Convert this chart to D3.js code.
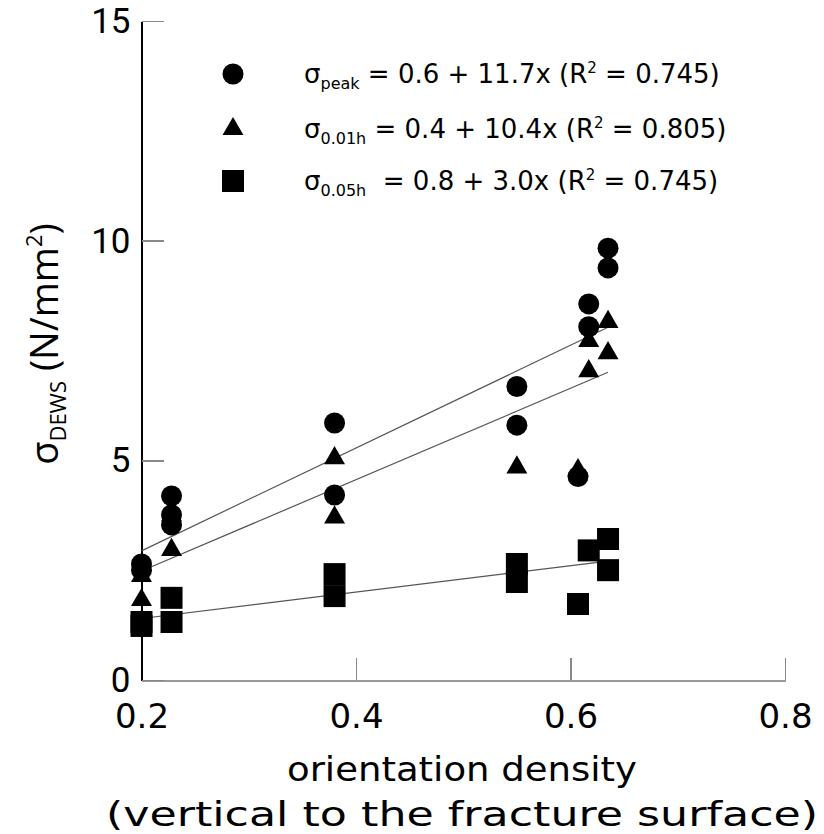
<!DOCTYPE html>
<meta charset='utf-8'>
<style>
	body {
		margin: 0;
		background: #fff;
	}

	.axis path, .axis line {
		shape-rendering: crispEdges;
	}

	.fit {
		fill: none;
		stroke: #555;
		stroke-width: 1.2px;
	}

	text {
		fill: #000;
	}
</style>
<body>
<script src='https://cdn.jsdelivr.net/npm/d3@7'></script>

<script type='text/javascript'>
	// values
	var xTicks = [0.2, 0.4, 0.6, 0.8];
	var yTicks = [0, 5, 10, 15];

	var peakX = [0.2, 0.2, 0.228, 0.228, 0.228, 0.38, 0.38, 0.55, 0.55, 0.607, 0.617, 0.617, 0.635, 0.635];
	var peakY = [2.64, 2.5, 4.19, 3.76, 3.53, 5.85, 4.21, 6.68, 5.8, 4.63, 8.56, 8.04, 9.83, 9.38];

	var h01X = [0.2, 0.2, 0.228, 0.228, 0.38, 0.38, 0.55, 0.607, 0.617, 0.617, 0.635, 0.635];
	var h01Y = [2.37, 1.82, 3.75, 2.96, 5.05, 3.7, 4.84, 4.78, 7.72, 7.03, 8.15, 7.44];

	var h05X = [0.2, 0.2, 0.228, 0.228, 0.38, 0.38, 0.55, 0.55, 0.607, 0.617, 0.635, 0.635];
	var h05Y = [1.32, 1.23, 1.87, 1.32, 2.41, 1.91, 2.64, 2.23, 1.73, 2.95, 3.21, 2.5];

	// fitted lines as given in the legend
	var fitNames = ['peak', '0.01h', '0.05h'];
	var fitIntercept = [0.6, 0.4, 0.8];
	var fitSlope = [11.7, 10.4, 3.0];
	var fitR2 = ['0.745', '0.805', '0.745'];
	var fitRange = [0.2, 0.635];

	var svgW = 824, svgH = 834;
	var comic = '"Comic Sans MS", "DejaVu Sans", sans-serif';

	var x = d3.scaleLinear().domain([0.2, 0.8]).range([141.5, 785]);
	var y = d3.scaleLinear().domain([0, 15]).range([680, 21]);

	var svg = d3.select('body').append('svg')
		.attr('width', svgW).attr('height', svgH);

	// axes
	var gx = svg.append('g').attr('class', 'axis')
		.attr('transform', 'translate(0,' + y(0) + ')')
		.call(d3.axisBottom(x).tickValues(xTicks).tickSize(-22).tickSizeOuter(0).tickPadding(24)
			.tickFormat(d3.format('.1f')));
	gx.select('.domain').attr('stroke', '#999').attr('stroke-width', 2);
	gx.selectAll('.tick line').attr('stroke', '#888').attr('stroke-width', 1.5);
	gx.selectAll('.tick text').attr('font-family', comic).attr('font-size', 34).attr('fill', '#000');

	var gy = svg.append('g').attr('class', 'axis')
		.attr('transform', 'translate(' + x(0.2) + ',0)')
		.call(d3.axisLeft(y).tickValues(yTicks).tickSize(-22).tickSizeOuter(0).tickPadding(11));
	gy.select('.domain').attr('stroke', '#000').attr('stroke-width', 1.5);
	gy.selectAll('.tick line').attr('stroke', '#888').attr('stroke-width', 1.5);
	gy.selectAll('.tick text').attr('font-family', '"Liberation Sans Narrow", Roboto, sans-serif')
		.attr('font-size', 35).attr('dy', '0.33em').attr('fill', '#000');

	// regression lines
	var line = d3.line().x(function (d) { return x(d[0]); }).y(function (d) { return y(d[1]); });
	fitNames.forEach(function (n, i) {
		var pts = fitRange.map(function (v) { return [v, fitIntercept[i] + fitSlope[i] * v]; });
		svg.append('path').attr('class', 'fit').attr('d', line(pts));
	});

	function zip(xs, ys) {
		return xs.map(function (v, i) { return [v, ys[i]]; });
	}

	var sqSym = d3.symbol().type(d3.symbolSquare).size(22 * 22);
	var triSym = d3.symbol().type(d3.symbolTriangle).size(190);
	var cirSym = d3.symbol().type(d3.symbolCircle).size(Math.PI * 10.5 * 10.5);

	function drawMarks(data, sym) {
		svg.append('g').selectAll('path').data(data).enter().append('path')
			.attr('d', sym)
			.attr('fill', '#000')
			.attr('transform', function (d) { return 'translate(' + x(d[0]) + ',' + y(d[1]) + ')'; });
	}

	drawMarks(zip(h05X, h05Y), sqSym);
	drawMarks(zip(h01X, h01Y), triSym);
	drawMarks(zip(peakX, peakY), cirSym);

	// legend
	var legSyms = [cirSym, triSym, sqSym];
	var legY = [74, 129, 181];
	var leg = svg.append('g');
	fitNames.forEach(function (n, i) {
		leg.append('path').attr('d', legSyms[i]).attr('fill', '#000')
			.attr('transform', 'translate(233,' + legY[i] + ')');
		var t = leg.append('text').attr('x', 304).attr('y', legY[i] + 9)
			.attr('font-family', comic).attr('font-size', 26);
		t.append('tspan').text('\u03c3');
		t.append('tspan').attr('font-size', 16).attr('dy', 6).text(n);
		t.append('tspan').attr('dy', -6).text(i === 2 ? '\u00a0 = ' : ' = ');
		t.append('tspan').text(fitIntercept[i].toFixed(1) + ' + ' + fitSlope[i].toFixed(1) + 'x (R');
		t.append('tspan').attr('font-size', 15).attr('dy', -10).text('2');
		t.append('tspan').attr('dy', 10).text(' = ' + fitR2[i] + ')');
	});

	// axis titles
	svg.append('text').attr('x', 462).attr('y', 781).attr('text-anchor', 'middle')
		.attr('font-family', comic).attr('font-size', 33)
		.attr('textLength', 350).attr('lengthAdjust', 'spacingAndGlyphs')
		.text('orientation density');
	svg.append('text').attr('x', 462).attr('y', 826).attr('text-anchor', 'middle')
		.attr('font-family', comic).attr('font-size', 33)
		.attr('textLength', 712).attr('lengthAdjust', 'spacingAndGlyphs')
		.text('(vertical to the fracture surface)');

	var yl = svg.append('text').attr('transform', 'translate(58,344) rotate(-90)')
		.attr('text-anchor', 'middle')
		.attr('font-family', '"Open Sans", sans-serif').attr('font-size', 38);
	yl.append('tspan').text('\u03c3');
	yl.append('tspan').attr('font-size', 22).attr('dy', 8).text('DEWS');
	yl.append('tspan').attr('dy', -8).text(' (N/mm');
	yl.append('tspan').attr('font-size', 22).attr('dy', -16).text('2');
	yl.append('tspan').attr('dy', 16).text(')');
</script>
